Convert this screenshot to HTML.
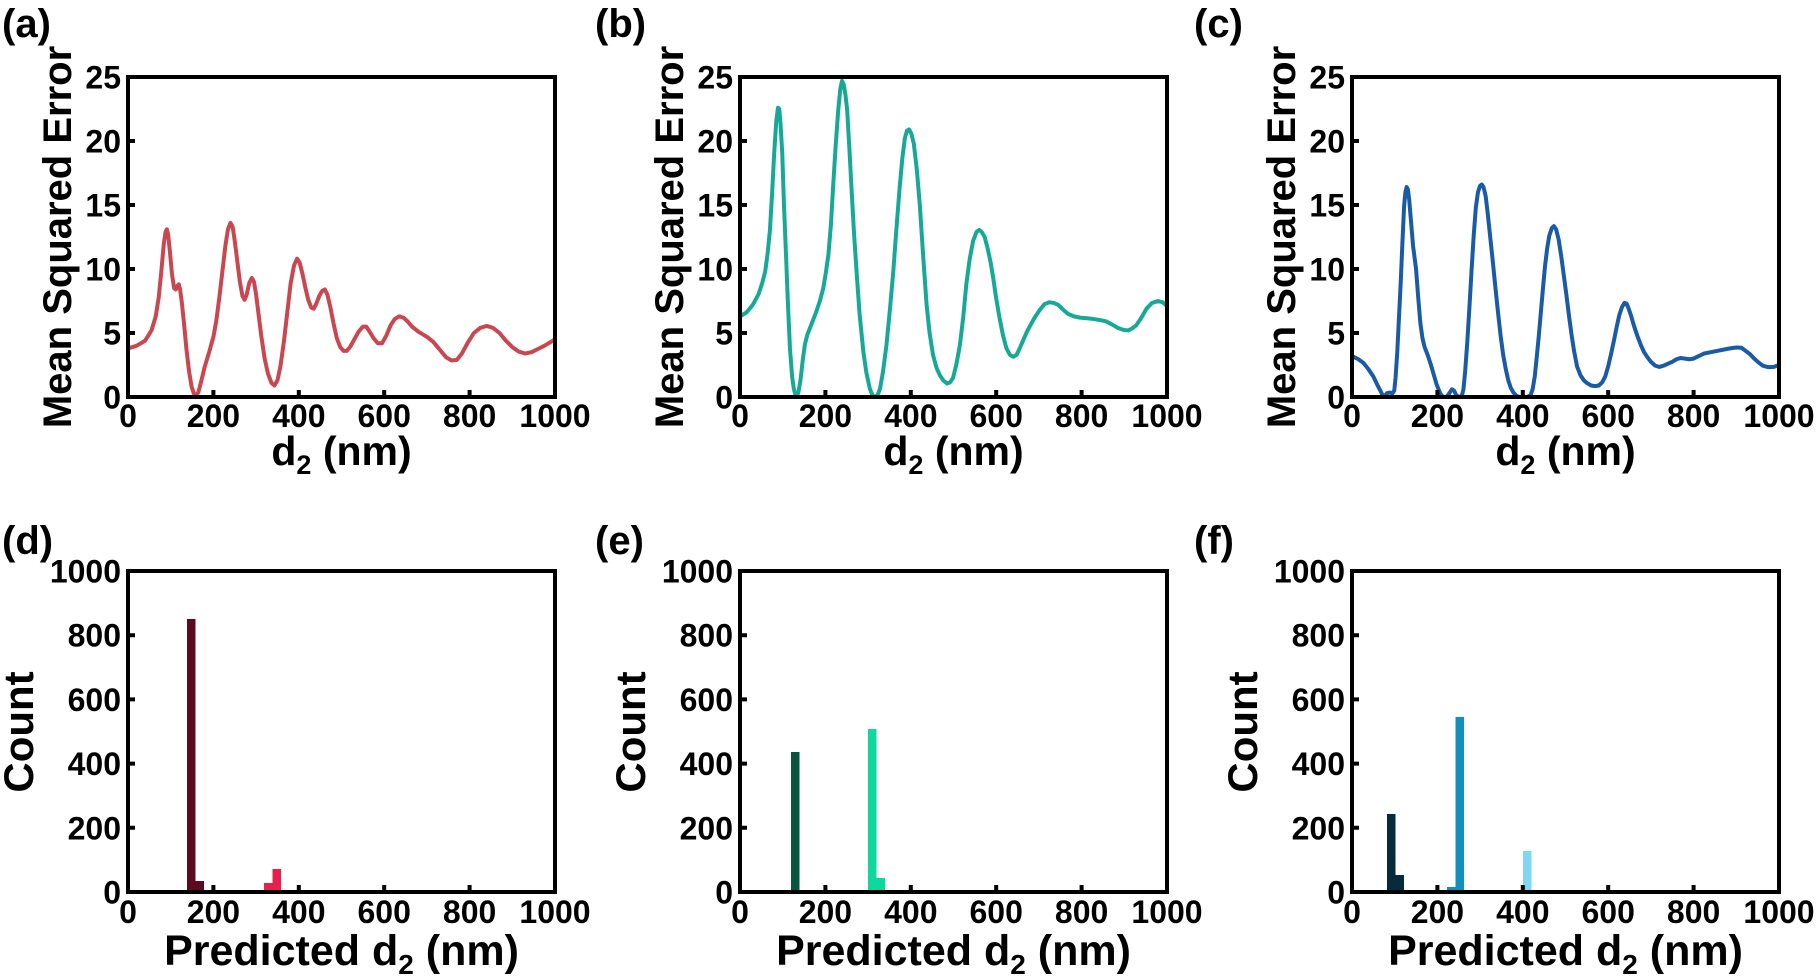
<!DOCTYPE html>
<html><head><meta charset="utf-8"><style>
html,body{margin:0;padding:0;background:#fff;}
svg{display:block;}
text{font-family:"Liberation Sans",Arial,sans-serif;font-weight:bold;fill:#000;}
.tk{font-size:32px;}
.al{font-size:41px;}
.pl{font-size:40px;}
</style></head><body>
<svg width="1817" height="976" viewBox="0 0 1817 976" xmlns="http://www.w3.org/2000/svg">
<rect width="1817" height="976" fill="#fff"/>

<!-- ===== Row 1 curves ===== -->
<g transform="translate(128,397) scale(0.427,-12.8)">
<polyline fill="none" stroke="#c9474f" stroke-width="4" stroke-linejoin="round" stroke-linecap="round" vector-effect="non-scaling-stroke" points="0,3.8 20,4.0 40,4.4 55,5.2 65,6.3 72,7.8 78,9.8 84,12.0 88,12.9 91,13.1 94,12.7 98,11.4 103,9.6 108,8.5 112,8.4 116,8.7 119,8.8 122,8.4 126,7.4 131,5.8 137,3.7 143,2.0 149,0.8 155,0.2 160,0.1 165,0.4 172,1.3 180,2.4 190,3.5 200,4.7 207,6.0 214,7.8 221,9.8 228,11.8 234,13.1 240,13.6 245,13.3 250,12.2 256,10.6 262,9.0 268,7.9 273,7.6 278,8.0 284,8.9 290,9.3 295,9.0 300,8.0 306,6.4 312,4.8 320,3.0 328,1.8 336,1.1 343,0.9 350,1.3 357,2.4 365,4.3 373,6.6 381,8.9 389,10.3 396,10.8 402,10.5 408,9.7 415,8.6 422,7.6 429,7.0 435,6.9 441,7.3 448,7.9 455,8.3 461,8.4 467,8.0 474,7.0 481,5.8 489,4.6 497,3.9 505,3.6 512,3.6 520,3.9 530,4.5 540,5.1 550,5.5 558,5.5 566,5.1 575,4.6 585,4.2 595,4.2 605,4.8 615,5.6 625,6.1 635,6.3 645,6.2 655,5.9 665,5.5 680,5.1 700,4.7 715,4.3 730,3.7 745,3.1 758,2.85 770,2.9 782,3.4 795,4.2 810,5.0 825,5.4 840,5.55 855,5.4 870,5.0 885,4.4 900,3.9 915,3.55 930,3.4 945,3.5 960,3.75 975,4.0 990,4.3 1000,4.5"/>
</g>
<g transform="translate(740,397) scale(0.427,-12.8)">
<polyline fill="none" stroke="#17a997" stroke-width="4" stroke-linejoin="round" stroke-linecap="round" vector-effect="non-scaling-stroke" points="0,6.3 15,6.6 30,7.2 43,8.0 52,8.9 59,9.8 65,11.3 70,13.0 75,15.8 80,19.0 85,21.6 89,22.6 92,22.5 95,21.3 99,19.0 103,15.0 108,10.9 112,7.5 117,3.8 122,1.6 126,0.65 130,0.1 133,0 137,0.4 142,1.4 147,2.9 152,4.1 158,4.9 164,5.4 171,6.0 179,6.7 187,7.5 195,8.5 201,9.7 207,11.1 213,13.5 218,16.4 224,19.6 230,22.4 235,24.1 239,24.7 243,24.4 247,23.6 251,22.4 256,19.5 261,16.4 267,12.8 273,9.8 280,6.5 289,3.5 296,1.9 304,0.65 310,0.15 316,0 322,0.15 328,0.65 335,2.0 343,4.06 351,6.8 359,9.8 366,13.0 374,16.4 380,18.6 386,20.2 391,20.8 396,20.9 401,20.6 407,19.8 414,17.8 421,15.05 429,11.0 437,7.2 444,5.0 452,3.3 460,2.3 468,1.7 476,1.3 485,1.05 492,1.15 499,1.5 507,2.6 515,4.06 523,6.3 530,8.8 538,10.8 546,12.2 554,12.9 560,13.05 566,12.9 573,12.5 580,11.6 587,10.5 593,9.3 600,7.7 608,6.15 616,4.8 624,3.8 632,3.3 640,3.14 648,3.3 655,3.8 664,4.5 672,5.1 680,5.6 690,6.2 702,6.8 713,7.25 724,7.4 735,7.35 745,7.2 756,6.85 768,6.5 782,6.3 796,6.2 812,6.15 827,6.1 845,6.0 858,5.9 872,5.65 885,5.4 897,5.25 909,5.2 918,5.35 928,5.6 940,6.2 952,6.9 965,7.35 979,7.5 990,7.4 1000,7.1"/>
</g>
<g transform="translate(1352,397) scale(0.427,-12.8)">
<polyline fill="none" stroke="#1a5ba7" stroke-width="4" stroke-linejoin="round" stroke-linecap="round" vector-effect="non-scaling-stroke" points="0,3.2 15,2.95 27,2.65 38,2.2 50,1.6 60,0.9 68,0.4 72,0.1 76,0.05 82,0.3 88,0.35 95,0.3 99,0.5 102,1.5 106,3.5 110,6.2 114,8.9 118,12.0 122,14.9 125,16.0 128,16.4 131,16.2 134,15.4 138,13.8 143,11.8 150,10.0 155,7.8 160,5.8 165,4.6 170,3.9 177,3.3 184,2.6 191,1.8 198,1.0 205,0.4 210,0.1 215,0.02 222,0 228,0.3 234,0.6 239,0.5 244,0.15 250,0 257,0.05 261,0.6 265,2.0 270,4.3 275,7.0 280,9.9 285,12.6 290,14.8 295,16.0 300,16.5 304,16.6 308,16.4 313,15.7 318,14.3 324,12.4 330,10.5 336,8.5 342,6.6 348,4.8 354,3.3 360,2.2 366,1.3 372,0.7 378,0.35 385,0.1 392,0 400,0 410,0 418,0.15 423,0.6 428,1.6 432,2.9 437,4.6 442,6.5 447,8.4 452,10.2 457,11.6 462,12.6 468,13.2 473,13.35 478,13.1 484,12.3 490,11.0 496,9.5 502,8.0 508,6.4 514,4.9 520,3.6 527,2.4 535,1.7 543,1.3 550,1.1 560,0.9 570,0.85 578,0.9 586,1.15 593,1.6 600,2.4 607,3.4 614,4.5 620,5.5 626,6.4 632,7.0 638,7.35 643,7.3 648,6.9 654,6.3 660,5.6 668,4.8 676,4.1 684,3.5 692,3.1 700,2.75 710,2.45 720,2.35 730,2.45 740,2.6 750,2.75 760,2.95 770,3.05 780,3.0 790,2.95 800,3.0 812,3.2 825,3.4 840,3.5 855,3.6 870,3.7 885,3.8 900,3.87 912,3.85 922,3.6 932,3.35 942,3.0 952,2.7 962,2.45 975,2.33 988,2.35 1000,2.5"/>
</g>

<!-- ===== Row 2 bars ===== -->
<rect x="187" y="619" width="8.5" height="273" fill="#5c0a20"/>
<rect x="195.5" y="881" width="8.5" height="11" fill="#5c0a20"/>
<rect x="264" y="883" width="8.5" height="9" fill="#e8204f"/>
<rect x="272.5" y="869" width="8.5" height="23" fill="#e8204f"/>

<rect x="791" y="752" width="8.5" height="140" fill="#08543f"/>
<rect x="868" y="729" width="8.5" height="163" fill="#0fd89c"/>
<rect x="876.5" y="878" width="8.5" height="14" fill="#0fd89c"/>

<rect x="1387" y="814" width="8.5" height="78" fill="#062b3a"/>
<rect x="1395.5" y="875" width="8.5" height="17" fill="#062b3a"/>
<rect x="1447" y="887" width="8.5" height="5" fill="#1190c0"/>
<rect x="1455.5" y="717" width="8.5" height="175" fill="#1190c0"/>
<rect x="1523" y="851" width="8.5" height="41" fill="#7ed8f2"/>

<!-- ===== Frames & ticks ===== -->
<g fill="none" stroke="#000" stroke-width="4">
<rect x="128" y="77" width="427" height="320"/>
<rect x="740" y="77" width="427" height="320"/>
<rect x="1352" y="77" width="427" height="320"/>
<rect x="128" y="571" width="427" height="321"/>
<rect x="740" y="571" width="427" height="321"/>
<rect x="1352" y="571" width="427" height="321"/>
<path d="M213.4,397v-7M298.8,397v-7M384.2,397v-7M469.6,397v-7 M128,333h7M128,269h7M128,205h7M128,141h7"/>
<path d="M825.4,397v-7M910.8,397v-7M996.2,397v-7M1081.6,397v-7 M740,333h7M740,269h7M740,205h7M740,141h7"/>
<path d="M1437.4,397v-7M1522.8,397v-7M1608.2,397v-7M1693.6,397v-7 M1352,333h7M1352,269h7M1352,205h7M1352,141h7"/>
<path d="M213.4,892v-7M298.8,892v-7M384.2,892v-7M469.6,892v-7 M128,827.8h7M128,763.6h7M128,699.4h7M128,635.2h7"/>
<path d="M825.4,892v-7M910.8,892v-7M996.2,892v-7M1081.6,892v-7 M740,827.8h7M740,763.6h7M740,699.4h7M740,635.2h7"/>
<path d="M1437.4,892v-7M1522.8,892v-7M1608.2,892v-7M1693.6,892v-7 M1352,827.8h7M1352,763.6h7M1352,699.4h7M1352,635.2h7"/>
</g>

<!-- ===== Panel labels ===== -->
<text class="pl" x="2" y="37">(a)</text>
<text class="pl" x="595" y="37">(b)</text>
<text class="pl" x="1194" y="37">(c)</text>
<text class="pl" x="2" y="554">(d)</text>
<text class="pl" x="595" y="554">(e)</text>
<text class="pl" x="1194" y="554">(f)</text>

<!-- ===== Row 1 tick labels ===== -->
<g class="tk" text-anchor="middle">
<text x="128" y="427">0</text><text x="213.4" y="427">200</text><text x="298.8" y="427">400</text><text x="384.2" y="427">600</text><text x="469.6" y="427">800</text><text x="555" y="427">1000</text>
<text x="740" y="427">0</text><text x="825.4" y="427">200</text><text x="910.8" y="427">400</text><text x="996.2" y="427">600</text><text x="1081.6" y="427">800</text><text x="1167" y="427">1000</text>
<text x="1352" y="427">0</text><text x="1437.4" y="427">200</text><text x="1522.8" y="427">400</text><text x="1608.2" y="427">600</text><text x="1693.6" y="427">800</text><text x="1779" y="427">1000</text>
</g>
<g class="tk" text-anchor="end">
<text x="121" y="408.5">0</text><text x="121" y="344.5">5</text><text x="121" y="280.5">10</text><text x="121" y="216.5">15</text><text x="121" y="152.5">20</text><text x="121" y="88.5">25</text>
<text x="733" y="408.5">0</text><text x="733" y="344.5">5</text><text x="733" y="280.5">10</text><text x="733" y="216.5">15</text><text x="733" y="152.5">20</text><text x="733" y="88.5">25</text>
<text x="1345" y="408.5">0</text><text x="1345" y="344.5">5</text><text x="1345" y="280.5">10</text><text x="1345" y="216.5">15</text><text x="1345" y="152.5">20</text><text x="1345" y="88.5">25</text>
</g>

<!-- ===== Row 2 tick labels ===== -->
<g class="tk" text-anchor="middle">
<text x="128" y="923">0</text><text x="213.4" y="923">200</text><text x="298.8" y="923">400</text><text x="384.2" y="923">600</text><text x="469.6" y="923">800</text><text x="555" y="923">1000</text>
<text x="740" y="923">0</text><text x="825.4" y="923">200</text><text x="910.8" y="923">400</text><text x="996.2" y="923">600</text><text x="1081.6" y="923">800</text><text x="1167" y="923">1000</text>
<text x="1352" y="923">0</text><text x="1437.4" y="923">200</text><text x="1522.8" y="923">400</text><text x="1608.2" y="923">600</text><text x="1693.6" y="923">800</text><text x="1779" y="923">1000</text>
</g>
<g class="tk" text-anchor="end">
<text x="121" y="903.5">0</text><text x="121" y="839.3">200</text><text x="121" y="775.1">400</text><text x="121" y="710.9">600</text><text x="121" y="646.7">800</text><text x="121" y="582.5">1000</text>
<text x="733" y="903.5">0</text><text x="733" y="839.3">200</text><text x="733" y="775.1">400</text><text x="733" y="710.9">600</text><text x="733" y="646.7">800</text><text x="733" y="582.5">1000</text>
<text x="1345" y="903.5">0</text><text x="1345" y="839.3">200</text><text x="1345" y="775.1">400</text><text x="1345" y="710.9">600</text><text x="1345" y="646.7">800</text><text x="1345" y="582.5">1000</text>
</g>

<!-- ===== Axis labels ===== -->
<g class="al" text-anchor="middle">
<text transform="translate(71,237) rotate(-90)" style="font-size:40px">Mean Squared Error</text>
<text transform="translate(683,237) rotate(-90)" style="font-size:40px">Mean Squared Error</text>
<text transform="translate(1295,237) rotate(-90)" style="font-size:40px">Mean Squared Error</text>
<text transform="translate(33,732) rotate(-90)" style="font-size:42px">Count</text>
<text transform="translate(645,732) rotate(-90)" style="font-size:42px">Count</text>
<text transform="translate(1257,732) rotate(-90)" style="font-size:42px">Count</text>

<text x="341.5" y="465">d<tspan font-size="27" dy="9">2</tspan><tspan dy="-9"> (nm)</tspan></text>
<text x="953.5" y="465">d<tspan font-size="27" dy="9">2</tspan><tspan dy="-9"> (nm)</tspan></text>
<text x="1565.5" y="465">d<tspan font-size="27" dy="9">2</tspan><tspan dy="-9"> (nm)</tspan></text>

<text x="341.5" y="965" style="font-size:43px">Predicted d<tspan font-size="28" dy="9">2</tspan><tspan dy="-9"> (nm)</tspan></text>
<text x="953.5" y="965" style="font-size:43px">Predicted d<tspan font-size="28" dy="9">2</tspan><tspan dy="-9"> (nm)</tspan></text>
<text x="1565.5" y="965" style="font-size:43px">Predicted d<tspan font-size="28" dy="9">2</tspan><tspan dy="-9"> (nm)</tspan></text>
</g>
</svg>
</body></html>
